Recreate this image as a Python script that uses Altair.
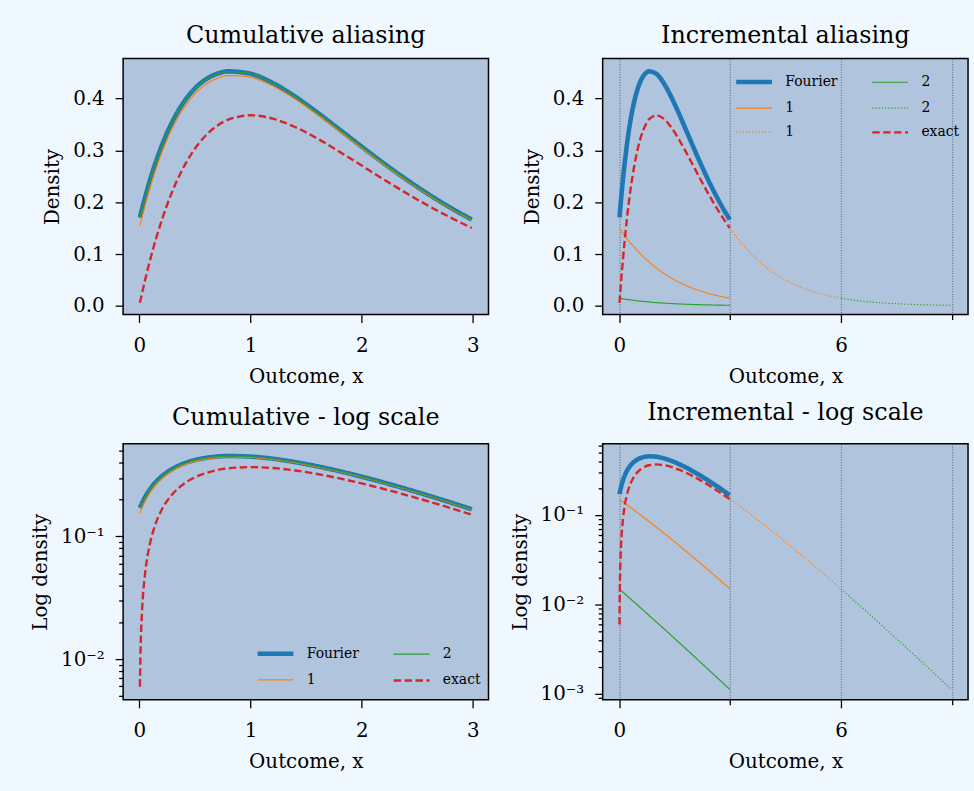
import altair as alt
import pandas as pd

# ---- data (density of outcome x on one period [0, 3)) ----
X = [0.006, 0.012, 0.025, 0.05, 0.075, 0.1, 0.15, 0.2, 0.25, 0.3, 0.4, 0.5, 0.6, 0.7,
     0.8, 0.9, 1.0, 1.2, 1.4, 1.6, 1.8, 2.0, 2.2, 2.4, 2.6, 2.8, 2.99]
EXACT = [0.00596, 0.01186, 0.02438, 0.04756, 0.06958, 0.09048, 0.12911, 0.16375, 0.19470,
         0.22225, 0.26813, 0.30327, 0.32929, 0.34761, 0.35946, 0.36510, 0.36788, 0.36143,
         0.34524, 0.32304, 0.29754, 0.27067, 0.24377, 0.21772, 0.19311, 0.17027, 0.15036]
ALIAS1 = [0.14876, 0.14817, 0.14689, 0.14444, 0.14203, 0.13965, 0.13498, 0.13044, 0.12602,
          0.12171, 0.11347, 0.10569, 0.09837, 0.09148, 0.08501, 0.07877, 0.07326, 0.06298,
          0.05402, 0.04624, 0.03950, 0.03369, 0.02869, 0.02439, 0.02071, 0.01756, 0.01500]
ALIAS2 = [0.014799, 0.014725, 0.014566, 0.014265, 0.013971, 0.013682, 0.013121, 0.012583,
          0.012066, 0.011569, 0.010634, 0.009773, 0.008979, 0.008247, 0.007574, 0.006939,
          0.006383, 0.005376, 0.004523, 0.003804, 0.003196, 0.002684, 0.002252, 0.001889,
          0.001583, 0.001327, 0.001121]
CUM1 = [0.15472, 0.16003, 0.17127, 0.19200, 0.21161, 0.23013, 0.26409, 0.29419, 0.32072,
        0.34396, 0.38160, 0.40896, 0.42766, 0.43909, 0.44447, 0.44387, 0.44114, 0.42441,
        0.39926, 0.36928, 0.33704, 0.30436, 0.27246, 0.24211, 0.21382, 0.18783, 0.16536]
CUM2 = [0.16952, 0.17476, 0.18584, 0.20627, 0.22558, 0.24381, 0.27721, 0.30677, 0.33279,
        0.35553, 0.39223, 0.41873, 0.43664, 0.44734, 0.45204, 0.45081, 0.44752, 0.42979,
        0.40378, 0.37308, 0.34024, 0.30704, 0.27471, 0.24400, 0.21540, 0.18916, 0.16648]
FOURIER = [0.17070, 0.17594, 0.18700, 0.20740, 0.22668, 0.24489, 0.27823, 0.30774, 0.33372,
           0.35641, 0.39303, 0.41945, 0.43729, 0.44793, 0.45257, 0.45129, 0.44796, 0.43015,
           0.40407, 0.37332, 0.34044, 0.30720, 0.27484, 0.24411, 0.21549, 0.18923, 0.16654]
PERIOD = 3

SERIES = ["Fourier", "1", "1:dot", "2", "2:dot", "exact"]
COLORS = ["#1f77b4", "#ff7f0e", "#ff7f0e", "#2ca02c", "#2ca02c", "#d62728"]
WIDTHS = [4.6, 1.2, 1.2, 1.2, 1.2, 2.4]
DASHES = [[1, 0], [1, 0], [1.2, 2.0], [1, 0], [1.2, 2.0], [7.5, 3.5]]

CUM_TICKS_X = [0, 1, 2, 3]
INC_TICKS_X = [0, 3, 6, 9]
LIN_TICKS_Y = [0.0, 0.1, 0.2, 0.3, 0.4]
LOG_TICKS_BL = [0.005, 0.006, 0.007, 0.008, 0.009, 0.01, 0.02, 0.03, 0.04, 0.05, 0.06, 0.07,
                0.08, 0.09, 0.1, 0.2, 0.3, 0.4, 0.5]
LOG_TICKS_BR = [0.0009, 0.001, 0.002, 0.003, 0.004, 0.005, 0.006, 0.007, 0.008, 0.009, 0.01,
                0.02, 0.03, 0.04, 0.05, 0.06, 0.07, 0.08, 0.09, 0.1, 0.2, 0.3, 0.4, 0.5, 0.6]

FONT = "DejaVu Serif"


def frame(rows):
    out = []
    for name, xs, ys, shift in rows:
        for xv, yv in zip(xs, ys):
            out.append({"x": xv + shift, "y": yv, "series": name})
    return pd.DataFrame(out)


cum_df = frame([("Fourier", X, FOURIER, 0), ("1", X, CUM1, 0), ("2", X, CUM2, 0),
                ("exact", X, EXACT, 0)])
inc_df = frame([("Fourier", X, FOURIER, 0), ("1", X, ALIAS1, 0), ("1:dot", X, ALIAS1, PERIOD),
                ("2", X, ALIAS2, 0), ("2:dot", X, ALIAS2, 2 * PERIOD), ("exact", X, EXACT, 0)])


def style(order):
    idx = [SERIES.index(n) for n in order]
    return (list(order), [COLORS[i] for i in idx], [WIDTHS[i] for i in idx],
            [DASHES[i] for i in idx])


def lookup_expr(values):
    # expression picking a per-series legend symbol style
    parts = []
    for name, v in zip(SERIES, values):
        parts.append(f"datum.value == '{name}' ? {v!r}")
    return " : ".join(parts) + " : " + repr(values[0])


def panel(df, names, title, ytitle, xscale, yscale, xaxis, yaxis, legend):
    dom, cols, wids, dashes = style(names)
    return (
        alt.Chart(df)
        .mark_line(interpolate="monotone", clip=True)
        .encode(
            x=alt.X("x:Q", scale=xscale, axis=xaxis, title="Outcome, x"),
            y=alt.Y("y:Q", scale=yscale, axis=yaxis, title=ytitle),
            color=alt.Color("series:N", scale=alt.Scale(domain=dom, range=cols), legend=legend),
            strokeDash=alt.StrokeDash("series:N", scale=alt.Scale(domain=dom, range=dashes), legend=None),
            strokeWidth=alt.StrokeWidth("series:N", scale=alt.Scale(type="ordinal", domain=dom, range=wids), legend=None),
            order=alt.Order("x:Q"),
        )
        .properties(
            width=368, height=258,
            title=alt.TitleParams(title, font=FONT, fontSize=24, fontWeight="normal",
                                  anchor="middle", color="black", offset=11),
        )
    )


def make_legend(x, y):
    return alt.Legend(
        title=None, orient="none", legendX=x, legendY=y, columns=2,
        columnPadding=29, rowPadding=6, labelFont=FONT, labelFontSize=14,
        labelColor="black", symbolType="M-1.8,0H1.8", symbolSize=400,
        labelOffset=19, padding=0,
        labelExpr="split(datum.label, ':')[0]",
        symbolStrokeColor={"expr": lookup_expr(COLORS)},
        symbolStrokeWidth={"expr": lookup_expr(WIDTHS)},
        symbolDash={"expr": lookup_expr(DASHES)},
    )


major_log = "datum.value == 0.1 || datum.value == 0.01 || datum.value == 0.001"
log_label = ("datum.value == 0.1 ? '10\u207b\u00b9' : datum.value == 0.01 ? '10\u207b\u00b2' : "
             "datum.value == 0.001 ? '10\u207b\u00b3' : ''")

cum_x = alt.Scale(domain=[-0.145, 3.14], nice=False, zero=False)
inc_x = alt.Scale(domain=[-0.45, 9.44], nice=False, zero=False)
lin_y = alt.Scale(domain=[-0.0168, 0.4775], nice=False, zero=False)

ax_cum_x = alt.Axis(values=CUM_TICKS_X, format="d", labelPadding=13, titlePadding=11)
ax_inc_x = alt.Axis(values=INC_TICKS_X, labelExpr="datum.value % 6 == 0 ? datum.label : ''",
                    labelPadding=13, titlePadding=11,
                    tickSize={"condition": {"test": "datum.value % 6 == 0", "value": 8}, "value": 5},
                    grid=True, gridDash=[1, 1.6], gridColor="#222222", gridOpacity=0.75, gridWidth=0.8)
ax_lin_y = alt.Axis(values=LIN_TICKS_Y, format=".1f")


def ax_log(vals):
    return alt.Axis(values=vals, labelExpr=log_label, labelOverlap=False,
                    tickSize={"condition": {"test": major_log, "value": 8}, "value": 4.5})


CUM_NAMES = ["Fourier", "1", "2", "exact"]
INC_NAMES = ["Fourier", "1", "1:dot", "2", "2:dot", "exact"]

tl = panel(cum_df, CUM_NAMES, "Cumulative aliasing", "Density", cum_x, lin_y,
           ax_cum_x, ax_lin_y, None)
tr = panel(inc_df, INC_NAMES, "Incremental aliasing", "Density", inc_x, lin_y,
           ax_inc_x, ax_lin_y, make_legend(140, 11))
bl = panel(cum_df, CUM_NAMES, "Cumulative - log scale", "Log density", cum_x,
           alt.Scale(type="log", domain=[0.00466, 0.571], nice=False),
           ax_cum_x, ax_log(LOG_TICKS_BL), make_legend(141, 199))
br = panel(inc_df, INC_NAMES, "Incremental - log scale", "Log density", inc_x,
           alt.Scale(type="log", domain=[0.000858, 0.627], nice=False),
           ax_inc_x, ax_log(LOG_TICKS_BR), None)

chart = (
    alt.concat(tl, tr, bl, br, columns=2, spacing={"row": 12, "column": 20})
    .resolve_scale(x="independent", y="independent", color="independent",
                   strokeDash="independent", strokeWidth="independent")
    .resolve_legend(color="independent", strokeDash="independent", strokeWidth="independent")
    .properties(background="#F0F8FF", padding={"left": 30, "top": 20, "right": 5, "bottom": 18})
    .configure_view(fill="#B0C4DE", stroke="black", strokeWidth=1.5)
    .configure_axis(labelFont=FONT, labelFontSize=20, titleFont=FONT, titleFontSize=20,
                    titleFontWeight="normal", labelColor="black", titleColor="black",
                    tickColor="black", tickSize=8, tickWidth=1.3, domain=False, grid=False,
                    labelPadding=11, titlePadding=10)
)

chart.save("out.html", embed_options={"renderer": "svg", "actions": False})
